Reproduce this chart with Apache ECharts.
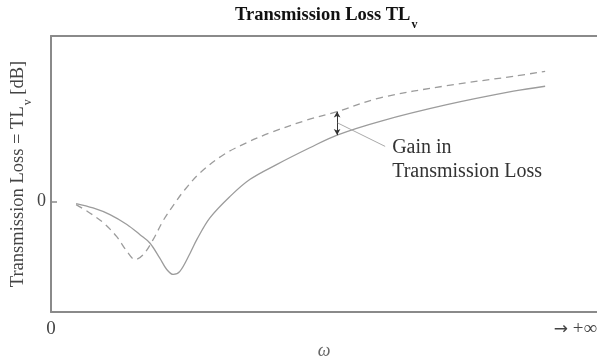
<!DOCTYPE html>
<html>
<head>
<meta charset="utf-8">
<style>
  html, body { margin: 0; padding: 0; background: #fff; }
  #chart { width: 597px; height: 361px; }
</style>
<script src="https://cdn.jsdelivr.net/npm/echarts@6/dist/echarts.min.js"></script>
</head>
<body>
<div id="chart"></div>
<script>
// Frequency (omega), arbitrary units from 0 towards +infinity
const omegaSolid = [4.6, 7.7, 10.8, 13.9, 16.3, 18.1, 19.9, 21.2, 22.4, 23.6, 25.5, 26.7, 29.1, 32.8, 36.4, 41.3, 47.4, 52.4, 60.3, 72.5, 84.7, 90.5];
// Transmission loss of the basic configuration [dB]
const tlSolid = [-0.07, -0.23, -0.47, -0.83, -1.20, -1.50, -2.04, -2.46, -2.64, -2.53, -1.86, -1.38, -0.59, 0.19, 0.80, 1.34, 1.95, 2.41, 2.91, 3.51, 4.00, 4.18];

const omegaDashed = [4.6, 7.1, 9.6, 12.0, 13.9, 15.4, 16.9, 18.7, 20.6, 22.7, 24.5, 27.3, 31.6, 35.8, 40.1, 46.8, 52.4, 60.3, 72.5, 84.7, 90.5];
// Transmission loss of the improved configuration [dB]
const tlDashed = [-0.11, -0.41, -0.77, -1.26, -1.80, -2.10, -1.92, -1.38, -0.67, -0.05, 0.43, 1.04, 1.70, 2.13, 2.49, 2.95, 3.26, 3.76, 4.20, 4.54, 4.72];

// Frequency where the gain is marked
const gainOmega = 52.4;
// Leader line from the gain marker to its caption
const leaderFrom = [52.5, 2.85];
const leaderTo = [61.2, 2.0];

const xTickValues = [0, 100];
const xTickLabels = ['0', '{ar|\u2192} +\u221E'];
const yTickValues = [0];

const serif = '"Liberation Serif", "DejaVu Serif", serif';
const lineGray = '#9c9c9c';
const axisGray = '#8a8a8a';

const pairs = (xs, ys) => xs.map((x, i) => [x, ys[i]]);
const gainTop = tlDashed[omegaDashed.indexOf(gainOmega)];
const gainBottom = tlSolid[omegaSolid.indexOf(gainOmega)];

const chart = echarts.init(document.getElementById('chart'), null, { renderer: 'canvas' });

chart.setOption({
  backgroundColor: '#fff',
  animation: false,
  title: {
    text: '{a|Transmission Loss TL}{s|v}',
    left: 235,
    top: 6,
    padding: 0,
    textStyle: {
      rich: {
        a: { fontFamily: serif, fontSize: 18.5, fontWeight: 'bold', color: '#111', lineHeight: 20, verticalAlign: 'top' },
        s: { fontFamily: serif, fontSize: 12, fontWeight: 'bold', color: '#111', padding: [13, 0, 0, 1], verticalAlign: 'top' }
      }
    }
  },
  grid: { left: 51, right: 0, top: 36, bottom: 49, containLabel: false, outerBoundsMode: 'none' },
  xAxis: [{
    type: 'value',
    min: 0,
    max: 100,
    position: 'bottom',
    name: '\u03C9',
    nameLocation: 'middle',
    nameGap: 30,
    nameMoveOverlap: false,
    nameTextStyle: { fontFamily: serif, fontStyle: 'italic', fontSize: 18, color: '#666' },
    axisLine: { show: true, onZero: false, lineStyle: { color: axisGray, width: 2 } },
    axisTick: { show: false },
    splitLine: { show: false },
    axisLabel: {
      customValues: xTickValues,
      formatter: v => xTickLabels[xTickValues.indexOf(v)],
      alignMaxLabel: 'right',
      margin: 8,
      fontFamily: serif,
      fontSize: 19,
      color: '#444',
      rich: {
        ar: { fontFamily: '"DejaVu Sans", sans-serif', fontSize: 17, color: '#444' }
      }
    }
  }, {
    type: 'value',
    min: 0,
    max: 100,
    position: 'top',
    axisLine: { show: true, onZero: false, lineStyle: { color: axisGray, width: 2 } },
    axisTick: { show: false },
    axisLabel: { show: false },
    splitLine: { show: false }
  }],
  yAxis: {
    type: 'value',
    min: -4,
    max: 6,
    name: '{a|Transmission Loss = TL}{s|v}{a| [dB]}',
    nameLocation: 'middle',
    nameRotate: 90,
    nameGap: 17,
    nameMoveOverlap: false,
    nameTextStyle: {
      rich: {
        a: { fontFamily: serif, fontSize: 18.5, color: '#444', lineHeight: 20, verticalAlign: 'top' },
        s: { fontFamily: serif, fontSize: 12, color: '#444', padding: [13, 0, 0, 1], verticalAlign: 'top' }
      }
    },
    axisLine: { show: true, onZero: false, lineStyle: { color: axisGray, width: 2 } },
    axisTick: { show: true, inside: true, length: 6, customValues: yTickValues, lineStyle: { color: axisGray, width: 1.5 } },
    splitLine: { show: false },
    axisLabel: {
      customValues: yTickValues,
      margin: 5,
      fontFamily: serif,
      fontSize: 18,
      color: '#444'
    }
  },
  series: [{
    name: 'basic',
    type: 'line',
    data: pairs(omegaSolid, tlSolid),
    smooth: 0.35,
    showSymbol: false,
    lineStyle: { color: lineGray, width: 1.3 },
    markLine: {
      silent: true,
      animation: false,
      data: [
        [
          { coord: [gainOmega, gainTop], symbol: 'arrow', symbolSize: [5, 6] },
          { coord: [gainOmega, gainBottom], symbol: 'arrow', symbolSize: [5, 6] }
        ],
        [
          { coord: leaderFrom, symbol: 'none', lineStyle: { color: '#aaa', width: 1, type: 'solid' } },
          { coord: leaderTo, symbol: 'none' }
        ]
      ],
      lineStyle: { color: '#333', width: 1, type: 'solid' },
      label: { show: false }
    }
  }, {
    name: 'improved',
    type: 'line',
    data: pairs(omegaDashed, tlDashed),
    smooth: 0.35,
    showSymbol: false,
    lineStyle: { color: lineGray, width: 1.3, type: [7, 5] }
  }]
});

// Caption for the gain marker, placed just right of the leader line end
const captionPos = chart.convertToPixel({ gridIndex: 0 }, leaderTo);
chart.setOption({
  graphic: [{
    type: 'text',
    left: captionPos[0] + 7,
    top: captionPos[1] - 11,
    style: {
      text: 'Gain in\nTransmission Loss',
      font: '20px "Liberation Serif", serif',
      fill: '#333',
      lineHeight: 24
    }
  }]
});
</script>
</body>
</html>
